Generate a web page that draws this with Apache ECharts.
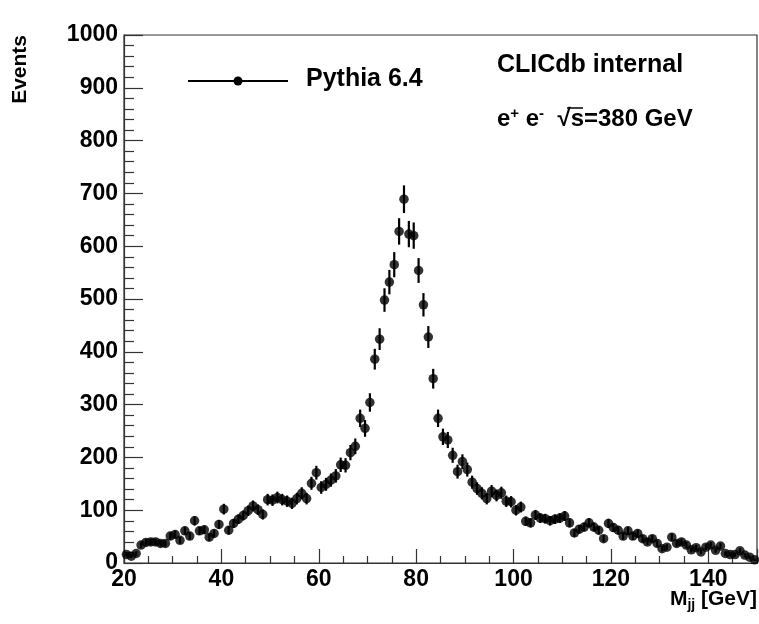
<!DOCTYPE html>
<html>
<head>
<meta charset="utf-8">
<script src="https://cdn.jsdelivr.net/npm/echarts@6/dist/echarts.min.js"></script>
<style>html,body{margin:0;padding:0;background:#fff;}#c{width:759px;height:624px;}</style>
</head>
<body>
<div id="c"></div>
<script>
// Bin centres (GeV) and event counts per 1 GeV bin
const binStart = 20.5;
const binWidth = 1;
const counts = [
  16, 13, 18, 34, 39, 40, 40, 37, 37, 51,
  54, 43, 61, 51, 80, 61, 63, 49, 56, 73,
  102, 62, 75, 83, 90, 99, 108, 101, 92, 120,
  119, 124, 120, 117, 113, 122, 132, 122, 151, 171,
  143, 149, 157, 165, 186, 185, 209, 221, 274, 255,
  304, 386, 424, 498, 532, 565, 628, 689, 623, 620,
  554, 489, 428, 349, 274, 239, 233, 204, 173, 192,
  177, 153, 141, 132, 122, 136, 128, 133, 117, 116,
  100, 106, 79, 76, 91, 85, 84, 80, 83, 85,
  89, 76, 57, 64, 68, 76, 68, 62, 46, 75,
  67, 62, 51, 61, 51, 56, 46, 40, 46, 37,
  27, 30, 49, 37, 40, 34, 25, 29, 21, 30,
  34, 24, 32, 18, 16, 16, 23, 15, 11, 6
];
const xTicks = [20, 40, 60, 80, 100, 120, 140];
const yTicks = [0, 100, 200, 300, 400, 500, 600, 700, 800, 900, 1000];

const pts = counts.map((v, i) => [binStart + i * binWidth, v]);
const errs = counts.map((v, i) => [binStart + i * binWidth, v - Math.sqrt(v), v + Math.sqrt(v)]);

const font = 'Liberation Sans, Arial, Helvetica, sans-serif';
const axisCol = '#333';
const chart = echarts.init(document.getElementById('c'));
chart.setOption({
  animation: false,
  grid: {left: 124, right: 2, top: 35, bottom: 61, show: true, borderColor: axisCol, borderWidth: 1.2},
  xAxis: {
    type: 'value', min: 20, max: 150, interval: 20,
    axisLine: {show: true, lineStyle: {color: axisCol, width: 1.2}},
    axisTick: {show: true, inside: true, length: 14, lineStyle: {color: axisCol, width: 1.2}},
    minorTick: {show: true, splitNumber: 4, length: 7, lineStyle: {color: axisCol, width: 1.2}},
    splitLine: {show: false},
    axisLabel: {fontFamily: font, fontWeight: 'bold', fontSize: 23, color: '#000', margin: 5,
      showMaxLabel: false, formatter: v => xTicks.includes(v) ? String(v) : ''}
  },
  yAxis: {
    type: 'value', min: 0, max: 1000, interval: 100,
    axisLine: {show: true, lineStyle: {color: axisCol, width: 1.2}},
    axisTick: {show: true, inside: true, length: 19, lineStyle: {color: axisCol, width: 1.2}},
    minorTick: {show: true, splitNumber: 5, length: 10, lineStyle: {color: axisCol, width: 1.2}},
    splitLine: {show: false},
    axisLabel: {fontFamily: font, fontWeight: 'bold', fontSize: 23, color: '#000', margin: 6,
      formatter: v => yTicks.includes(v) ? String(v) : ''}
  },
  series: [
    {
      type: 'custom',
      data: errs,
      renderItem: (params, api) => {
        const x = api.value(0);
        const a = api.coord([x, api.value(1)]);
        const b = api.coord([x, api.value(2)]);
        return {type: 'line', shape: {x1: a[0], y1: a[1], x2: b[0], y2: b[1]},
          style: {stroke: '#000', lineWidth: 2.2}};
      },
      z: 2
    },
    {
      type: 'scatter', data: pts, symbol: 'circle', symbolSize: 9.5,
      itemStyle: {color: '#000'}, z: 3
    }
  ],
  graphic: [
    {type: 'text', left: 10, top: 35, rotation: Math.PI / 2,
      style: {text: 'Events', font: 'bold 21px ' + font, fill: '#000'}},
    {type: 'text', right: 2, top: 589,
      style: {rich: {m: {font: 'bold 21px ' + font, fill: '#000'}, s: {font: 'bold 14px ' + font, fill: '#000', padding: [12, 0, 0, 0]}},
        text: '{m|M}{s|jj}{m| [GeV]}'}},
    {type: 'line', shape: {x1: 188, y1: 81, x2: 288, y2: 81}, style: {stroke: '#000', lineWidth: 2}},
    {type: 'circle', shape: {cx: 238, cy: 81, r: 4.5}, style: {fill: '#000'}},
    {type: 'text', left: 306, top: 67, style: {text: 'Pythia 6.4', font: 'bold 25px ' + font, fill: '#000'}},
    {type: 'text', left: 497, top: 53, style: {text: 'CLICdb internal', font: 'bold 25px ' + font, fill: '#000'}},
    {type: 'text', left: 497, top: 106,
      style: {rich: {m: {font: 'bold 24px ' + font, fill: '#000'}, p: {font: 'bold 15px ' + font, fill: '#000', padding: [0, 0, 12, 0]}},
        text: '{m|e}{p|+}{m| e}{p|-}{m|  \u221As=380 GeV}'}},
    {type: 'line', shape: {x1: 567, y1: 108, x2: 583, y2: 108}, style: {stroke: '#000', lineWidth: 1.5}}
  ]
});
</script>
</body>
</html>
